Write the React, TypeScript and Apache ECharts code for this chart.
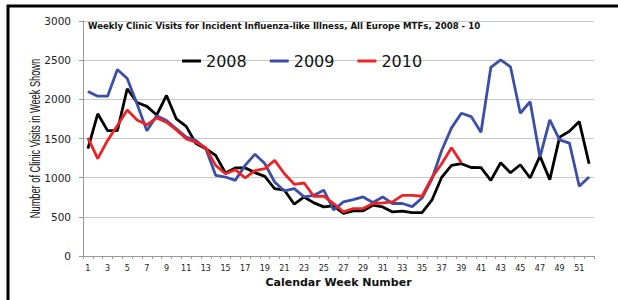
import React, { useEffect, useRef } from "react";
import * as echarts from "echarts";

const weeks = [
  "1","2","3","4","5","6","7","8","9","10","11","12","13","14","15","16","17","18","19","20",
  "21","22","23","24","25","26","27","28","29","30","31","32","33","34","35","36","37","38","39","40",
  "41","42","43","44","45","46","47","48","49","50","51","52",
];

const visits2008 = [
  1370, 1815, 1600, 1600, 2135, 1960, 1910, 1800, 2050, 1750,
  1655, 1435, 1370, 1285, 1060, 1125, 1125, 1065, 1017, 860,
  840, 661, 754, 678, 627, 640, 545, 576, 576, 648,
  627, 563, 572, 553, 553, 712, 1005, 1157, 1178, 1130,
  1127, 966, 1190, 1063, 1165, 996, 1275, 975, 1517, 1593,
  1716, 1178,
];

const visits2009 = [
  2100, 2040, 2040, 2380, 2267, 1940, 1600, 1792, 1729, 1623,
  1517, 1475, 1369, 1030, 1008, 966, 1157, 1300, 1180, 945,
  830, 860, 754, 775, 840, 590, 690, 720, 754, 682,
  754, 670, 670, 630, 740, 980, 1347, 1636, 1822, 1780,
  1580, 2407, 2504, 2415, 1822, 1970, 1263, 1737, 1483, 1441,
  890, 1008,
];

const visits2010 = [
  1508, 1242, 1475, 1665, 1864, 1737, 1674, 1763, 1708, 1610,
  1496, 1453, 1381, 1157, 1050, 1102, 996, 1090, 1114, 1220,
  1050, 915, 932, 760, 763, 670, 563, 606, 606, 670,
  678, 690, 775, 775, 763, 1000, 1178, 1381, 1190,
];

const yTicks = { min: 0, max: 3000, interval: 500 };

const titleText =
  "Weekly Clinic Visits for Incident Influenza-like Illness, All Europe MTFs, 2008 - 10";
const yAxisTitle = "Number of Clinic Visits in Week Shown";

export default function App() {
  const ref = useRef<HTMLDivElement>(null);

  useEffect(() => {
    if (!ref.current) return;
    const chart = echarts.init(ref.current, undefined, { renderer: "svg" });
    chart.setOption({
      animation: false,
      backgroundColor: "#ffffff",
      grid: { left: 83, right: 24, top: 21, bottom: 44, containLabel: false },
      legend: {
        left: 177,
        top: 47,
        itemWidth: 19,
        itemHeight: 3,
        itemGap: 23,
        icon: "rect",
        textStyle: { fontFamily: "DejaVu Sans", fontSize: 16, lineHeight: 18, color: "#111" },
        data: ["2008", "2009", "2010"],
      },
      graphic: [
        {
          type: "rect",
          shape: { x: 8, y: 6, width: 640, height: 320 },
          style: { fill: "none", stroke: "#000", lineWidth: 3 },
          silent: true,
        },
        {
          type: "text",
          x: 88,
          y: 21,
          style: {
            text: titleText,
            fontFamily: "DejaVu Sans",
            fontWeight: "bold",
            fontSize: 8.6,
            fill: "#111",
          },
          silent: true,
        },
        {
          type: "text",
          x: 35,
          y: 138.5,
          rotation: Math.PI / 2,
          scaleX: 0.66,
          style: {
            text: yAxisTitle,
            fontFamily: "Liberation Sans",
            fontSize: 14,
            fill: "#111",
            align: "center",
            verticalAlign: "middle",
          },
          silent: true,
        },
      ],
      xAxis: {
        type: "category",
        data: weeks,
        boundaryGap: true,
        name: "Calendar Week Number",
        nameLocation: "middle",
        nameGap: 21,
        nameTextStyle: { fontFamily: "DejaVu Sans", fontWeight: "bold", fontSize: 11, color: "#111", verticalAlign: "top" },
        axisLine: { lineStyle: { color: "#999", width: 1 } },
        axisTick: { show: true, interval: 0, length: 3, lineStyle: { color: "#999" } },
        axisLabel: { interval: 1, margin: 8, fontFamily: "DejaVu Sans", fontSize: 8, color: "#222" },
        splitLine: { show: false },
      },
      yAxis: {
        type: "value",
        min: yTicks.min,
        max: yTicks.max,
        interval: yTicks.interval,
        axisLine: { show: true, lineStyle: { color: "#999", width: 1 } },
        axisTick: { show: true, length: 4, lineStyle: { color: "#999" } },
        axisLabel: {
          margin: 12,
          fontFamily: "DejaVu Sans",
          fontSize: 10.5,
          color: "#222",
          formatter: (v: number) => String(v),
        },
        splitLine: { show: true, lineStyle: { color: "#c8c8c8", width: 1 } },
      },
      series: [
        {
          name: "2008",
          type: "line",
          data: visits2008,
          symbol: "none",
          color: "#000000",
          lineStyle: { width: 2.8, color: "#000000" },
        },
        {
          name: "2009",
          type: "line",
          data: visits2009,
          symbol: "none",
          color: "#3b4fa6",
          lineStyle: { width: 2.8, color: "#3b4fa6" },
        },
        {
          name: "2010",
          type: "line",
          data: visits2010,
          symbol: "none",
          color: "#ee2224",
          lineStyle: { width: 2.8, color: "#ee2224" },
        },
      ],
    });
    return () => chart.dispose();
  }, []);

  return (
    <div
      ref={ref}
      style={{ position: "absolute", left: 0, top: 0, width: 618, height: 300, background: "#fff" }}
    />
  );
}
